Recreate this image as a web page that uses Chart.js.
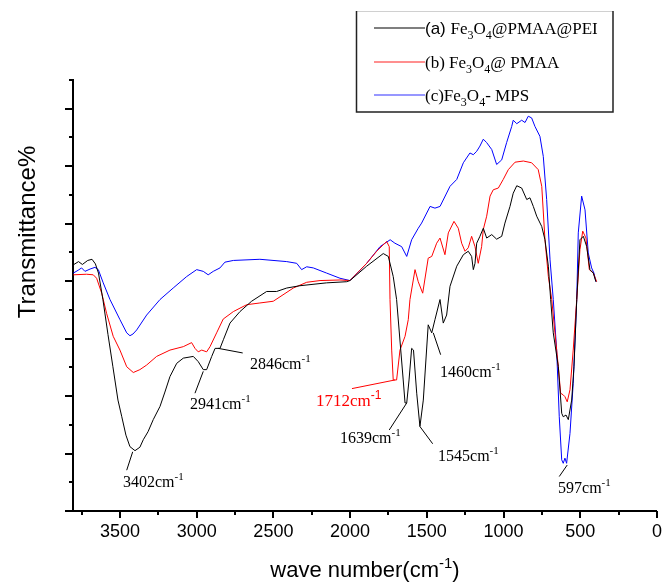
<!DOCTYPE html>
<html>
<head>
<meta charset="utf-8">
<script src="https://cdn.jsdelivr.net/npm/chart.js@4.4.0/dist/chart.umd.min.js"></script>
<style>
  html, body { margin: 0; padding: 0; background: #fff; }
  #wrap { width: 665px; height: 583px; }
</style>
</head>
<body>
<div id="wrap"><canvas id="ftir"></canvas></div>
<script>
// wavenumber (cm-1) / transmittance (arb. units)
const waveA = [3806, 3770, 3745, 3710, 3682, 3660, 3640, 3611, 3578, 3546, 3513, 3488, 3461, 3435, 3402, 3370, 3348, 3317, 3283, 3239, 3207, 3174, 3130, 3087, 3022, 2990, 2957, 2935, 2902, 2880, 2848, 2826, 2783, 2718, 2642, 2544, 2479, 2413, 2327, 2153, 2022, 2001, 1892, 1784, 1751, 1719, 1697, 1654, 1642, 1631, 1616, 1599, 1587, 1566, 1545, 1523, 1491, 1468, 1447, 1414, 1393, 1371, 1349, 1305, 1262, 1230, 1208, 1197, 1186, 1175, 1154, 1132, 1110, 1077, 1045, 1012, 991, 958, 937, 914, 882, 849, 828, 806, 784, 751, 730, 708, 693, 676, 643, 621, 611, 593, 578, 556, 541, 523, 502, 480, 458, 437, 415, 398];
const transA = [42.8, 43.4, 42.9, 43.6, 43.8, 43.0, 41.4, 36.8, 30.7, 25.1, 19.3, 16.4, 13.2, 11.2, 10.5, 11.1, 12.4, 13.8, 15.9, 18.2, 20.7, 23.4, 25.7, 26.6, 26.9, 26.0, 24.6, 24.6, 26.9, 28.3, 28.3, 29.8, 32.7, 34.7, 36.5, 38.2, 38.2, 38.8, 39.2, 39.7, 39.9, 40.1, 42.6, 44.8, 44.3, 40.8, 36.8, 22.8, 18.8, 18.8, 22.8, 28.3, 28.0, 20.5, 14.7, 19.3, 32.4, 31.0, 33.3, 36.8, 32.7, 34.1, 39.1, 42.6, 44.6, 45.2, 44.3, 42.0, 43.1, 46.6, 47.8, 49.2, 47.5, 48.1, 47.3, 47.8, 50.1, 53.0, 55.3, 56.6, 56.2, 54.2, 54.5, 53.0, 51.3, 49.5, 47.2, 42.6, 36.8, 31.0, 25.1, 17.0, 16.4, 16.7, 15.9, 19.3, 25.1, 36.8, 47.2, 47.8, 46.0, 42.0, 41.4, 39.9];

const waveB = [3804, 3717, 3674, 3652, 3619, 3587, 3544, 3500, 3456, 3413, 3370, 3326, 3261, 3174, 3087, 3033, 3011, 2990, 2967, 2935, 2913, 2870, 2827, 2761, 2674, 2588, 2501, 2370, 2283, 2196, 2066, 2001, 1892, 1827, 1762, 1745, 1740, 1729, 1719, 1697, 1675, 1642, 1621, 1610, 1577, 1556, 1527, 1491, 1468, 1436, 1414, 1382, 1360, 1323, 1295, 1273, 1251, 1230, 1208, 1186, 1165, 1143, 1132, 1110, 1088, 1067, 1034, 1002, 969, 925, 871, 817, 774, 751, 730, 708, 686, 665, 643, 628, 611, 600, 585, 567, 546, 523, 502, 484, 463, 441, 415, 393];
const transB = [41.1, 41.2, 41.1, 40.5, 37.9, 34.4, 30.4, 28.0, 25.1, 24.1, 24.6, 25.4, 26.9, 28.0, 28.6, 29.3, 28.3, 27.7, 28.0, 27.7, 28.6, 31.0, 33.4, 34.7, 35.9, 36.2, 36.5, 38.8, 39.8, 40.1, 40.2, 40.1, 43.1, 45.2, 46.9, 46.0, 36.8, 28.0, 22.8, 22.8, 28.0, 30.4, 33.3, 36.8, 42.0, 39.9, 37.9, 44.0, 44.3, 46.6, 47.5, 44.6, 48.4, 50.4, 49.2, 46.6, 45.2, 45.8, 47.8, 46.0, 43.1, 46.0, 49.0, 51.3, 54.8, 55.9, 56.2, 57.7, 59.4, 60.7, 60.9, 60.6, 59.4, 56.5, 47.2, 40.8, 36.8, 31.0, 25.1, 20.5, 20.2, 19.9, 19.0, 21.1, 28.0, 36.8, 45.5, 48.7, 47.5, 42.0, 41.4, 39.9];

const waveC = [3804, 3772, 3750, 3728, 3695, 3663, 3641, 3609, 3565, 3500, 3456, 3435, 3415, 3391, 3326, 3239, 3153, 3065, 3000, 2957, 2925, 2892, 2848, 2816, 2761, 2588, 2413, 2348, 2316, 2283, 2240, 2153, 2066, 2001, 1892, 1805, 1739, 1708, 1664, 1631, 1599, 1556, 1534, 1479, 1447, 1414, 1349, 1305, 1262, 1219, 1197, 1175, 1154, 1132, 1110, 1077, 1045, 1012, 980, 947, 937, 914, 882, 860, 839, 817, 795, 763, 741, 719, 697, 676, 654, 637, 621, 611, 600, 589, 567, 546, 523, 513, 491, 469, 448, 426, 411, 398];
const transC = [41.4, 41.9, 42.3, 41.7, 42.1, 42.4, 42.0, 39.7, 36.8, 33.3, 31.0, 30.5, 30.8, 31.5, 34.1, 36.8, 38.8, 40.8, 42.0, 41.7, 41.1, 41.7, 42.3, 43.3, 43.6, 43.8, 43.4, 43.1, 42.0, 42.5, 42.3, 41.4, 40.5, 40.1, 43.1, 46.0, 47.2, 46.6, 46.0, 44.3, 47.2, 49.2, 50.1, 53.0, 52.7, 53.0, 56.5, 57.7, 60.6, 62.3, 62.0, 62.6, 63.5, 64.7, 64.1, 62.9, 60.3, 61.1, 64.1, 66.9, 68.0, 67.4, 68.0, 67.6, 68.7, 68.4, 66.9, 65.2, 61.7, 54.2, 43.7, 36.8, 28.0, 16.4, 8.9, 8.3, 9.2, 8.3, 13.5, 22.2, 36.8, 48.4, 54.8, 52.4, 44.9, 42.3, 41.4, 39.9];

// axis ticks: every 250 cm-1 on x (labels every 500), every 5 units on y
const xTickValues = [3750, 3500, 3250, 3000, 2750, 2500, 2250, 2000, 1750, 1500, 1250, 1000, 750, 500, 250, 0];
const xTickLabels = [3500, 3000, 2500, 2000, 1500, 1000, 500, 0];
const yTickValues = [0, 5, 10, 15, 20, 25, 30, 35, 40, 45, 50, 55, 60, 65, 70, 75];

// peak labels: leader line from peak to label, label anchor (data units)
const peakMarks = [
  { text: '3402', from: [3417, 10.3], to: [3456, 7.1], at: [3480, 4.2] },
  { text: '2941', from: [2957, 24.3], to: [3011, 20.5], at: [3044, 17.8] },
  { text: '2846', from: [2859, 28.3], to: [2700, 27.5], at: [2653, 24.7] },
  { text: '1712', from: [1708, 22.8], to: [1988, 21.3], at: [2222, 18.3], red: true },
  { text: '1639', from: [1631, 18.8], to: [1745, 14.1], at: [2066, 11.8] },
  { text: '1545', from: [1545, 14.7], to: [1462, 11.7], at: [1427, 8.7] },
  { text: '1460', from: [1458, 31.0], to: [1410, 27.2], at: [1414, 23.3] },
  { text: '597', from: [585, 8.0], to: [637, 6.0], at: [645, 3.1] }
];

const toPts = (w, t) => w.map((x, i) => ({ x: x, y: t[i] }));

// text with sub/superscript runs
function drawRuns(ctx, runs, x, y, size) {
  runs.forEach(r => {
    const small = r.sub || r.sup;
    const s = small ? Math.round(size * 0.68) : size;
    ctx.font = s + 'px ' + (r.sans ? '"Liberation Sans", Arial' : '"Liberation Serif", "Times New Roman"');
    const dy = r.sub ? size * 0.28 : (r.sup ? -size * 0.42 : 0);
    ctx.fillText(r.t, x, y + dy);
    x += ctx.measureText(r.t).width;
  });
  return x;
}

const decor = {
  id: 'decor',
  afterDraw(chart) {
    const { ctx, chartArea: a, scales: { x, y } } = chart;
    ctx.save();

    // tick marks, long at major, short at minor
    ctx.strokeStyle = '#000';
    ctx.lineWidth = 2;
    ctx.beginPath();
    x.ticks.forEach(t => {
      const px = Math.round(x.getPixelForValue(t.value));
      const len = t.value % 500 === 0 ? 7 : 4;
      ctx.moveTo(px, a.bottom); ctx.lineTo(px, a.bottom + len);
    });
    y.ticks.forEach(t => {
      const py = Math.round(y.getPixelForValue(t.value));
      const len = t.value % 10 === 0 ? 8 : 4;
      ctx.moveTo(a.left, py); ctx.lineTo(a.left - len, py);
    });
    ctx.stroke();

    // axis titles
    ctx.fillStyle = '#000';
    ctx.textBaseline = 'alphabetic';
    ctx.save();
    ctx.translate(35, 232);
    ctx.rotate(-Math.PI / 2);
    ctx.font = '24px "Liberation Sans", Arial';
    ctx.textAlign = 'center';
    ctx.fillText('Transmittance%', 0, 0);
    ctx.restore();

    ctx.textAlign = 'left';
    const xt = [{ t: 'wave number(cm', sans: true }, { t: '-1', sup: true, sans: true }, { t: ')', sans: true }];
    let w = 0;
    xt.forEach(r => {
      ctx.font = (r.sup ? 15 : 22) + 'px "Liberation Sans", Arial';
      w += ctx.measureText(r.t).width;
    });
    drawRuns(ctx, xt, 365 - w / 2, 577, 22);

    // peak annotations
    peakMarks.forEach(p => {
      const col = p.red ? '#ff0000' : '#000';
      ctx.strokeStyle = col;
      ctx.fillStyle = col;
      ctx.lineWidth = 1;
      ctx.beginPath();
      ctx.moveTo(x.getPixelForValue(p.from[0]), y.getPixelForValue(p.from[1]));
      ctx.lineTo(x.getPixelForValue(p.to[0]), y.getPixelForValue(p.to[1]));
      ctx.stroke();
      const runs = [{ t: p.text + 'cm' }, { t: '-1', sup: true, sans: !!p.red }];
      drawRuns(ctx, runs, x.getPixelForValue(p.at[0]), y.getPixelForValue(p.at[1]), p.red ? 17 : 16);
    });

    // legend box
    ctx.lineWidth = 1;
    ctx.strokeStyle = '#d0d0d0';
    ctx.beginPath(); ctx.moveTo(356, 11.5); ctx.lineTo(613, 11.5); ctx.stroke();
    ctx.strokeStyle = '#222';
    ctx.lineWidth = 1.5;
    ctx.beginPath();
    ctx.moveTo(356.5, 11); ctx.lineTo(356.5, 112); ctx.lineTo(613, 112); ctx.lineTo(613, 11);
    ctx.stroke();

    const entries = [
      { c: '#000000', y: 28, runs: [{ t: '(a) ', sans: true }, { t: 'Fe' }, { t: '3', sub: true }, { t: 'O' }, { t: '4', sub: true }, { t: '@PMAA@PEI' }] },
      { c: '#ff2020', y: 62, runs: [{ t: '(b) Fe' }, { t: '3', sub: true }, { t: 'O' }, { t: '4', sub: true }, { t: '@ PMAA' }] },
      { c: '#3030ff', y: 95, runs: [{ t: '(c)Fe' }, { t: '3', sub: true }, { t: 'O' }, { t: '4', sub: true }, { t: '- MPS' }] }
    ];
    entries.forEach(e => {
      ctx.strokeStyle = e.c;
      ctx.lineWidth = 1.2;
      ctx.beginPath(); ctx.moveTo(374, e.y); ctx.lineTo(425, e.y); ctx.stroke();
      ctx.fillStyle = '#000';
      drawRuns(ctx, e.runs, 425, e.y + 6, 17);
    });
    ctx.restore();
  }
};

new Chart(document.getElementById('ftir'), {
  type: 'line',
  data: {
    datasets: [
      { label: '(a) Fe3O4@PMAA@PEI', data: toPts(waveA, transA), borderColor: '#000000' },
      { label: '(b) Fe3O4@ PMAA', data: toPts(waveB, transB), borderColor: '#ff0000' },
      { label: '(c)Fe3O4- MPS', data: toPts(waveC, transC), borderColor: '#0000ff' }
    ]
  },
  options: {
    responsive: true,
    maintainAspectRatio: false,
    animation: false,
    devicePixelRatio: 1,
    layout: { padding: { left: 0, top: 80, right: 8, bottom: 0 } },
    elements: {
      line: { borderWidth: 1, tension: 0 },
      point: { radius: 0, hoverRadius: 0 }
    },
    plugins: { legend: { display: false }, tooltip: { enabled: false } },
    scales: {
      x: {
        type: 'linear',
        reverse: true,
        min: 0,
        max: 3806,
        afterBuildTicks: s => { s.ticks = xTickValues.map(v => ({ value: v })); },
        afterFit: s => { s.height = 72; },
        border: { display: true, color: '#000', width: 2 },
        grid: { drawOnChartArea: false, drawTicks: true, tickLength: 7, color: 'rgba(0,0,0,0)' },
        ticks: {
          autoSkip: false,
          maxRotation: 0,
          padding: 3,
          color: '#000',
          font: { family: '"Liberation Sans", Arial', size: 18 },
          callback: v => xTickLabels.includes(v) ? String(v) : ''
        }
      },
      y: {
        min: 0,
        max: 75,
        afterBuildTicks: s => { s.ticks = yTickValues.map(v => ({ value: v })); },
        afterFit: s => { s.width = 73; },
        border: { display: true, color: '#000', width: 2 },
        grid: { display: false, drawTicks: false },
        ticks: { display: false }
      }
    }
  },
  plugins: [decor]
});
</script>
</body>
</html>
